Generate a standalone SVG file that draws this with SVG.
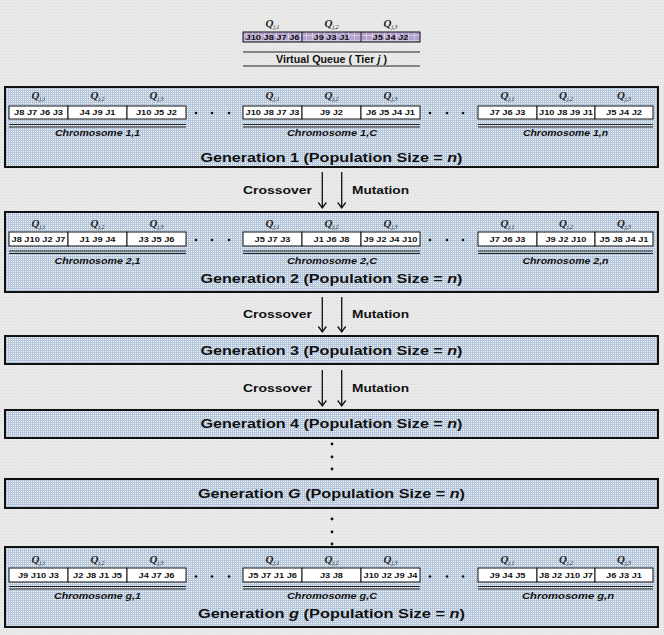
<svg xmlns="http://www.w3.org/2000/svg" width="664" height="635" viewBox="0 0 664 635">
<defs>
<pattern id="bg" width="3" height="3" patternUnits="userSpaceOnUse"><rect width="3" height="3" fill="#e9e9e9"/><rect width="1" height="1" fill="#dcdcdc"/></pattern>
<pattern id="gen" width="2" height="2" patternUnits="userSpaceOnUse"><rect width="2" height="2" fill="#b6c6da"/><rect x="1" y="1" width="1" height="1" fill="#f2f5f9"/></pattern>
<pattern id="vq" width="6" height="5" patternUnits="userSpaceOnUse"><rect width="6" height="5" fill="#b3a2cc"/><rect width="6" height="0.8" fill="#ddd4ea"/><rect width="0.8" height="5" fill="#ddd4ea"/></pattern>
<pattern id="grn" width="5" height="5" patternUnits="userSpaceOnUse"><rect width="5" height="5" fill="#95b956"/><rect x="3.8" width="0.9" height="5" fill="#eef3e2"/></pattern>
<pattern id="red" width="6" height="6" patternUnits="userSpaceOnUse"><rect width="6" height="6" fill="#d69290"/><path d="M0,0 L6,6 M6,0 L0,6" stroke="#f1d3d1" stroke-width="0.8"/></pattern>
<pattern id="cyn" width="3" height="3" patternUnits="userSpaceOnUse"><rect width="3" height="3" fill="#4aaac6"/><rect y="2" width="3" height="1" fill="#eaf6fa"/></pattern>
<marker id="ah" viewBox="0 0 8 10" refX="6" refY="5" markerWidth="8" markerHeight="10" markerUnits="userSpaceOnUse" orient="auto"><path d="M0.5,1 L6,5 L0.5,9" fill="none" stroke="#111" stroke-width="1.3"/></marker>
</defs>
<style>
.genbox{fill:url(#gen);stroke:#111;stroke-width:2}
.cell{fill:#fff;stroke:#111;stroke-width:1}
.job{font-family:"Liberation Sans",Arial,sans-serif;font-weight:bold;font-size:7px;fill:#111;text-anchor:middle}
.q{font-family:"Liberation Serif","Times New Roman",serif;font-weight:bold;font-style:italic;font-size:11px;fill:#222;text-anchor:middle}
.sub{font-size:6px;font-weight:normal}
.chl{font-family:"Liberation Sans",Arial,sans-serif;font-weight:bold;font-style:italic;font-size:9px;fill:#111;text-anchor:middle}
.ttl{font-family:"Liberation Sans",Arial,sans-serif;font-weight:bold;font-size:13px;fill:#111;text-anchor:middle}
.op{font-family:"Liberation Sans",Arial,sans-serif;font-weight:bold;font-size:10px;fill:#111}
.dl{stroke:#222;stroke-width:1.2}
.dot{fill:#111}
.arr{stroke:#111;stroke-width:1.3;marker-end:url(#ah)}
</style>
<rect width="664" height="635" fill="url(#bg)"/>

<g id="virtual-queue">
<text class="q" x="272.5" y="27">Q<tspan class="sub" dy="2">j,1</tspan></text>
<text class="q" x="331.5" y="27">Q<tspan class="sub" dy="2">j,2</tspan></text>
<text class="q" x="390.5" y="27">Q<tspan class="sub" dy="2">j,3</tspan></text>
<rect x="243" y="32" width="177" height="10" fill="url(#vq)" stroke="#111" stroke-width="1"/>
<line x1="302" y1="32" x2="302" y2="42" stroke="#111"/>
<line x1="361" y1="32" x2="361" y2="42" stroke="#111"/>
<text class="job" x="272.5" y="39.5" textLength="54" lengthAdjust="spacingAndGlyphs">J10 J8 J7 J6</text>
<text class="job" x="331.5" y="39.5" textLength="36" lengthAdjust="spacingAndGlyphs">J9 J3 J1</text>
<text class="job" x="390.5" y="39.5" textLength="36" lengthAdjust="spacingAndGlyphs">J5 J4 J2</text>
<line class="dl" x1="243" y1="52" x2="420" y2="52"/>
<text class="op" x="331.5" y="63" text-anchor="middle" font-size="7.5" textLength="111" lengthAdjust="spacingAndGlyphs">Virtual Queue ( Tier <tspan font-style="italic">j</tspan> )</text>
<line class="dl" x1="243" y1="66" x2="420" y2="66"/>
</g>

<g id="generation-1">
<rect class="genbox" x="5" y="87" width="653" height="80"/>
<g id="chromosome-1-1">
<text class="q" x="38.5" y="99">Q<tspan class="sub" dy="2">j,1</tspan></text>
<text class="q" x="97.5" y="99">Q<tspan class="sub" dy="2">j,2</tspan></text>
<text class="q" x="156.5" y="99">Q<tspan class="sub" dy="2">j,3</tspan></text>
<rect class="cell" x="9" y="106" width="59" height="13"/>
<rect class="cell" x="68" y="106" width="59" height="13" fill="url(#grn)"/>
<rect class="cell" x="127" y="106" width="59" height="13"/>
<text class="job" x="38.5" y="115" textLength="49" lengthAdjust="spacingAndGlyphs">J8 J7 J6 J3</text>
<text class="job" x="97.5" y="115" textLength="36" lengthAdjust="spacingAndGlyphs">J4 J9 J1</text>
<text class="job" x="156.5" y="115" textLength="41" lengthAdjust="spacingAndGlyphs">J10 J5 J2</text>
<line class="dl" x1="9" y1="124.5" x2="186" y2="124.5"/><line class="dl" x1="9" y1="127" x2="186" y2="127"/>
<text class="chl" x="97.5" y="135.5" textLength="85" lengthAdjust="spacingAndGlyphs">Chromosome 1,1</text>
</g>
<g id="chromosome-1-c">
<text class="q" x="272.5" y="99">Q<tspan class="sub" dy="2">j,1</tspan></text>
<text class="q" x="331.5" y="99">Q<tspan class="sub" dy="2">j,2</tspan></text>
<text class="q" x="390.5" y="99">Q<tspan class="sub" dy="2">j,3</tspan></text>
<rect class="cell" x="243" y="106" width="59" height="13"/>
<rect class="cell" x="302" y="106" width="59" height="13" fill="url(#red)"/>
<rect class="cell" x="361" y="106" width="59" height="13"/>
<text class="job" x="272.5" y="115" textLength="54" lengthAdjust="spacingAndGlyphs">J10 J8 J7 J3</text>
<text class="job" x="331.5" y="115" textLength="23" lengthAdjust="spacingAndGlyphs">J9 J2</text>
<text class="job" x="390.5" y="115" textLength="49" lengthAdjust="spacingAndGlyphs">J6 J5 J4 J1</text>
<line class="dl" x1="243" y1="124.5" x2="420" y2="124.5"/><line class="dl" x1="243" y1="127" x2="420" y2="127"/>
<text class="chl" x="332" y="135.5" textLength="90" lengthAdjust="spacingAndGlyphs">Chromosome 1,C</text>
</g>
<g id="chromosome-1-n">
<text class="q" x="507.5" y="99">Q<tspan class="sub" dy="2">j,1</tspan></text>
<text class="q" x="566" y="99">Q<tspan class="sub" dy="2">j,2</tspan></text>
<text class="q" x="624" y="99">Q<tspan class="sub" dy="2">j,3</tspan></text>
<rect class="cell" x="478" y="106" width="59" height="13" fill="url(#cyn)"/>
<rect class="cell" x="537" y="106" width="58" height="13"/>
<rect class="cell" x="595" y="106" width="58" height="13"/>
<text class="job" x="507.5" y="115" textLength="36" lengthAdjust="spacingAndGlyphs">J7 J6 J3</text>
<text class="job" x="566" y="115" textLength="54" lengthAdjust="spacingAndGlyphs">J10 J8 J9 J1</text>
<text class="job" x="624" y="115" textLength="36" lengthAdjust="spacingAndGlyphs">J5 J4 J2</text>
<line class="dl" x1="478" y1="124.5" x2="653" y2="124.5"/><line class="dl" x1="478" y1="127" x2="653" y2="127"/>
<text class="chl" x="565.5" y="135.5" textLength="85" lengthAdjust="spacingAndGlyphs">Chromosome 1,n</text>
</g>
<circle class="dot" cx="196" cy="113" r="1.3"/><circle class="dot" cx="212" cy="113" r="1.3"/><circle class="dot" cx="229" cy="113" r="1.3"/>
<circle class="dot" cx="430" cy="113" r="1.3"/><circle class="dot" cx="447" cy="113" r="1.3"/><circle class="dot" cx="463" cy="113" r="1.3"/>
<text class="ttl" x="331.5" y="161.5" textLength="262" lengthAdjust="spacingAndGlyphs">Generation 1 (Population Size = <tspan font-style="italic">n</tspan>)</text>
</g>

<g id="generation-2">
<rect class="genbox" x="5" y="212" width="653" height="80"/>
<g id="chromosome-2-1">
<text class="q" x="38.5" y="226.5">Q<tspan class="sub" dy="2">j,1</tspan></text>
<text class="q" x="97.5" y="226.5">Q<tspan class="sub" dy="2">j,2</tspan></text>
<text class="q" x="156.5" y="226.5">Q<tspan class="sub" dy="2">j,3</tspan></text>
<rect class="cell" x="9" y="232" width="59" height="14"/>
<rect class="cell" x="68" y="232" width="59" height="14" fill="url(#grn)"/>
<rect class="cell" x="127" y="232" width="59" height="14"/>
<text class="job" x="38.5" y="241.5" textLength="54" lengthAdjust="spacingAndGlyphs">J8 J10 J2 J7</text>
<text class="job" x="97.5" y="241.5" textLength="36" lengthAdjust="spacingAndGlyphs">J1 J9 J4</text>
<text class="job" x="156.5" y="241.5" textLength="36" lengthAdjust="spacingAndGlyphs">J3 J5 J6</text>
<line class="dl" x1="9" y1="251" x2="186" y2="251"/><line class="dl" x1="9" y1="253.5" x2="186" y2="253.5"/>
<text class="chl" x="97.5" y="263.5" textLength="86" lengthAdjust="spacingAndGlyphs">Chromosome 2,1</text>
</g>
<g id="chromosome-2-c">
<text class="q" x="272.5" y="226.5">Q<tspan class="sub" dy="2">j,1</tspan></text>
<text class="q" x="331.5" y="226.5">Q<tspan class="sub" dy="2">j,2</tspan></text>
<text class="q" x="390.5" y="226.5">Q<tspan class="sub" dy="2">j,3</tspan></text>
<rect class="cell" x="243" y="232" width="59" height="14"/>
<rect class="cell" x="302" y="232" width="59" height="14" fill="url(#red)"/>
<rect class="cell" x="361" y="232" width="59" height="14"/>
<text class="job" x="272.5" y="241.5" textLength="36" lengthAdjust="spacingAndGlyphs">J5 J7 J3</text>
<text class="job" x="331.5" y="241.5" textLength="36" lengthAdjust="spacingAndGlyphs">J1 J6 J8</text>
<text class="job" x="390.5" y="241.5" textLength="54" lengthAdjust="spacingAndGlyphs">J9 J2 J4 J10</text>
<line class="dl" x1="243" y1="251" x2="420" y2="251"/><line class="dl" x1="243" y1="253.5" x2="420" y2="253.5"/>
<text class="chl" x="332" y="263.5" textLength="90" lengthAdjust="spacingAndGlyphs">Chromosome 2,C</text>
</g>
<g id="chromosome-2-n">
<text class="q" x="507.5" y="226.5">Q<tspan class="sub" dy="2">j,1</tspan></text>
<text class="q" x="566" y="226.5">Q<tspan class="sub" dy="2">j,2</tspan></text>
<text class="q" x="624" y="226.5">Q<tspan class="sub" dy="2">j,3</tspan></text>
<rect class="cell" x="478" y="232" width="59" height="14" fill="url(#cyn)"/>
<rect class="cell" x="537" y="232" width="58" height="14"/>
<rect class="cell" x="595" y="232" width="58" height="14"/>
<text class="job" x="507.5" y="241.5" textLength="36" lengthAdjust="spacingAndGlyphs">J7 J6 J3</text>
<text class="job" x="566" y="241.5" textLength="41" lengthAdjust="spacingAndGlyphs">J9 J2 J10</text>
<text class="job" x="624" y="241.5" textLength="49" lengthAdjust="spacingAndGlyphs">J5 J8 J4 J1</text>
<line class="dl" x1="478" y1="251" x2="653" y2="251"/><line class="dl" x1="478" y1="253.5" x2="653" y2="253.5"/>
<text class="chl" x="565.5" y="263.5" textLength="86" lengthAdjust="spacingAndGlyphs">Chromosome 2,n</text>
</g>
<circle class="dot" cx="196" cy="240" r="1.3"/><circle class="dot" cx="212" cy="240" r="1.3"/><circle class="dot" cx="229" cy="240" r="1.3"/>
<circle class="dot" cx="430" cy="240" r="1.3"/><circle class="dot" cx="447" cy="240" r="1.3"/><circle class="dot" cx="463" cy="240" r="1.3"/>
<text class="ttl" x="331.5" y="283" textLength="262" lengthAdjust="spacingAndGlyphs">Generation 2 (Population Size = <tspan font-style="italic">n</tspan>)</text>
</g>

<g id="generation-3">
<rect class="genbox" x="5" y="336" width="653" height="28"/>
<text class="ttl" x="331.5" y="355" textLength="262" lengthAdjust="spacingAndGlyphs">Generation 3 (Population Size = <tspan font-style="italic">n</tspan>)</text>
</g>

<g id="generation-4">
<rect class="genbox" x="5" y="410" width="653" height="28"/>
<text class="ttl" x="331.5" y="428" textLength="262" lengthAdjust="spacingAndGlyphs">Generation 4 (Population Size = <tspan font-style="italic">n</tspan>)</text>
</g>

<g id="generation-G">
<rect class="genbox" x="5" y="479" width="653" height="29"/>
<text class="ttl" x="331.5" y="497.5" textLength="267" lengthAdjust="spacingAndGlyphs">Generation <tspan font-style="italic">G</tspan> (Population Size = <tspan font-style="italic">n</tspan>)</text>
</g>

<g id="generation-g">
<rect class="genbox" x="5" y="547" width="653" height="80"/>
<g id="chromosome-g-1">
<text class="q" x="38.5" y="563">Q<tspan class="sub" dy="2">j,1</tspan></text>
<text class="q" x="97.5" y="563">Q<tspan class="sub" dy="2">j,2</tspan></text>
<text class="q" x="156.5" y="563">Q<tspan class="sub" dy="2">j,3</tspan></text>
<rect class="cell" x="9" y="568" width="59" height="14"/>
<rect class="cell" x="68" y="568" width="59" height="14"/>
<rect class="cell" x="127" y="568" width="59" height="14"/>
<text class="job" x="38.5" y="577.5" textLength="41" lengthAdjust="spacingAndGlyphs">J9 J10 J3</text>
<text class="job" x="97.5" y="577.5" textLength="49" lengthAdjust="spacingAndGlyphs">J2 J8 J1 J5</text>
<text class="job" x="156.5" y="577.5" textLength="36" lengthAdjust="spacingAndGlyphs">J4 J7 J6</text>
<line class="dl" x1="9" y1="586.5" x2="186" y2="586.5" stroke-width="1.6"/><line class="dl" x1="9" y1="589" x2="186" y2="589" stroke-width="1.6"/>
<text class="chl" x="97.5" y="598.5" textLength="87" lengthAdjust="spacingAndGlyphs">Chromosome g,1</text>
</g>
<g id="chromosome-g-c">
<text class="q" x="272.5" y="563">Q<tspan class="sub" dy="2">j,1</tspan></text>
<text class="q" x="331.5" y="563">Q<tspan class="sub" dy="2">j,2</tspan></text>
<text class="q" x="390.5" y="563">Q<tspan class="sub" dy="2">j,3</tspan></text>
<rect class="cell" x="243" y="568" width="59" height="14"/>
<rect class="cell" x="302" y="568" width="59" height="14"/>
<rect class="cell" x="361" y="568" width="59" height="14"/>
<text class="job" x="272.5" y="577.5" textLength="49" lengthAdjust="spacingAndGlyphs">J5 J7 J1 J6</text>
<text class="job" x="331.5" y="577.5" textLength="23" lengthAdjust="spacingAndGlyphs">J3 J8</text>
<text class="job" x="390.5" y="577.5" textLength="54" lengthAdjust="spacingAndGlyphs">J10 J2 J9 J4</text>
<line class="dl" x1="243" y1="586.5" x2="420" y2="586.5" stroke-width="1.6"/><line class="dl" x1="243" y1="589" x2="420" y2="589" stroke-width="1.6"/>
<text class="chl" x="332" y="598.5" textLength="90" lengthAdjust="spacingAndGlyphs">Chromosome g,C</text>
</g>
<g id="chromosome-g-n">
<text class="q" x="507.5" y="563">Q<tspan class="sub" dy="2">j,1</tspan></text>
<text class="q" x="566" y="563">Q<tspan class="sub" dy="2">j,2</tspan></text>
<text class="q" x="624" y="563">Q<tspan class="sub" dy="2">j,3</tspan></text>
<rect class="cell" x="478" y="568" width="59" height="14"/>
<rect class="cell" x="537" y="568" width="58" height="14"/>
<rect class="cell" x="595" y="568" width="58" height="14"/>
<text class="job" x="507.5" y="577.5" textLength="36" lengthAdjust="spacingAndGlyphs">J9 J4 J5</text>
<text class="job" x="566" y="577.5" textLength="54" lengthAdjust="spacingAndGlyphs">J8 J2 J10 J7</text>
<text class="job" x="624" y="577.5" textLength="36" lengthAdjust="spacingAndGlyphs">J6 J3 J1</text>
<line class="dl" x1="478" y1="586.5" x2="653" y2="586.5" stroke-width="1.6"/><line class="dl" x1="478" y1="589" x2="653" y2="589" stroke-width="1.6"/>
<text class="chl" x="568" y="598.5" textLength="92" lengthAdjust="spacingAndGlyphs">Chromosome g,n</text>
</g>
<circle class="dot" cx="196" cy="576.5" r="1.3"/><circle class="dot" cx="212" cy="576.5" r="1.3"/><circle class="dot" cx="229" cy="576.5" r="1.3"/>
<circle class="dot" cx="430" cy="576.5" r="1.3"/><circle class="dot" cx="447" cy="576.5" r="1.3"/><circle class="dot" cx="463" cy="576.5" r="1.3"/>
<text class="ttl" x="331.5" y="618" textLength="267" lengthAdjust="spacingAndGlyphs">Generation <tspan font-style="italic">g</tspan> (Population Size = <tspan font-style="italic">n</tspan>)</text>
</g>

<g id="connectors">
<line class="arr" x1="322.3" y1="172" x2="322.3" y2="208"/>
<line class="arr" x1="341.7" y1="172" x2="341.7" y2="208"/>
<text class="op" x="243" y="194" textLength="69" lengthAdjust="spacingAndGlyphs">Crossover</text>
<text class="op" x="352" y="194" textLength="57" lengthAdjust="spacingAndGlyphs">Mutation</text>
<line class="arr" x1="322.3" y1="297" x2="322.3" y2="332"/>
<line class="arr" x1="341.7" y1="297" x2="341.7" y2="332"/>
<text class="op" x="243" y="318" textLength="69" lengthAdjust="spacingAndGlyphs">Crossover</text>
<text class="op" x="352" y="318" textLength="57" lengthAdjust="spacingAndGlyphs">Mutation</text>
<line class="arr" x1="322.3" y1="370" x2="322.3" y2="406"/>
<line class="arr" x1="341.7" y1="370" x2="341.7" y2="406"/>
<text class="op" x="243" y="392" textLength="69" lengthAdjust="spacingAndGlyphs">Crossover</text>
<text class="op" x="352" y="392" textLength="57" lengthAdjust="spacingAndGlyphs">Mutation</text>
<circle class="dot" cx="332" cy="444" r="1.4"/><circle class="dot" cx="332" cy="457" r="1.4"/><circle class="dot" cx="332" cy="469" r="1.4"/>
<circle class="dot" cx="332" cy="519" r="1.4"/><circle class="dot" cx="332" cy="532" r="1.4"/><circle class="dot" cx="332" cy="544" r="1.4"/>
</g>
</svg>
